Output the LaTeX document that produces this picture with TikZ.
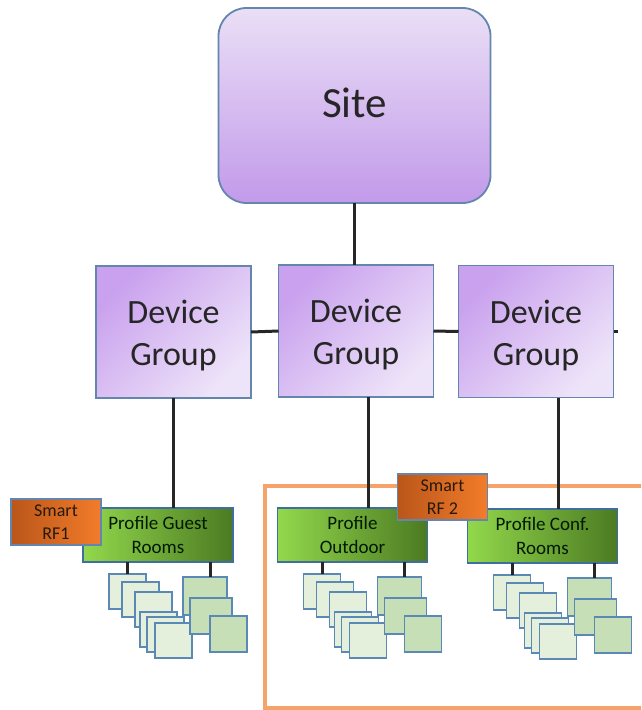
\documentclass[tikz,border=0pt]{standalone}
\usepackage{fontspec}
\setmainfont{Carlito}

\definecolor{SiteTop}{HTML}{EADFF6}
\definecolor{SiteBottom}{HTML}{C29AEA}
\definecolor{GroupDark}{HTML}{C9A1EE}
\definecolor{GroupLight}{HTML}{EEE4F9}
\definecolor{PurpleEdge}{HTML}{6486AE}
\definecolor{ProfLight}{HTML}{92D84C}
\definecolor{ProfDark}{HTML}{4C7A22}
\definecolor{BlueEdge}{HTML}{3F6FA0}
\definecolor{RFDark}{HTML}{BA561A}
\definecolor{RFLight}{HTML}{F27C2A}
\definecolor{SqEdge}{HTML}{5B89B5}
\definecolor{SqLight}{HTML}{E4F0DC}
\definecolor{SqDark}{HTML}{C6DFB6}
\definecolor{ZoneOrange}{HTML}{F6A26B}

\begin{document}
\begin{tikzpicture}[x=1pt, y=-1pt,
  site/.style={draw=PurpleEdge, line width=1.8pt, rounded corners=28pt,
    top color=SiteTop, bottom color=SiteBottom,
    minimum width=272pt, minimum height=195pt, inner sep=0pt, outer sep=0pt,
    text depth=6pt, font=\fontsize{43}{52}\selectfont, text=black!85},
  group/.style={draw=PurpleEdge, line width=1.8pt,
    top color=GroupDark, bottom color=GroupLight, shading angle=45,
    minimum width=155pt, minimum height=132pt, inner sep=0pt, outer sep=0pt,
    text height=73pt, align=center, font=\fontsize{34}{42}\selectfont, text=black!85},
  profile/.style={draw=BlueEdge, line width=1.8pt,
    left color=ProfLight, right color=ProfDark,
    minimum width=150pt, minimum height=54pt, inner sep=0pt, outer sep=0pt,
    align=center, font=\fontsize{19}{24}\selectfont, text=black!75!green!40!black},
  smartrf/.style={draw=PurpleEdge, line width=1.8pt,
    left color=RFDark, right color=RFLight,
    minimum width=90pt, minimum height=46pt, inner sep=0pt, outer sep=0pt,
    align=center, font=\fontsize{18}{23}\selectfont, text=black!80!brown},
  devlight/.style={draw=SqEdge, fill=SqLight, line width=1.6pt,
    inner sep=0pt, outer sep=0pt},
  devdark/.style={draw=SqEdge, fill=SqDark, line width=1.6pt,
    inner sep=0pt, outer sep=0pt},
  link/.style={line width=3pt, black!85},
  zone/.style={draw=ZoneOrange, line width=3.5pt}]
% Page
\clip (0,0) rectangle (641,710);
% Site and device groups
\node[site] (site) at (354.5,105.5) {Site};
\node[group] (dg1) at (173.5,332) {Device\\Group};
\node[group] (dg2) at (356,331) {Device\\Group};
\node[group] (dg3) at (536,331.5) {Device\\Group};
\coordinate (stub) at (618,331.5);
\draw[link] (site.south) -- (site.south |- dg2.north);
\draw[link] (dg1.east) -- (dg2.west);
\draw[link] (dg2.east) -- (dg3.west);
\draw[link] (dg3.east) -- (stub);
% Smart RF 2 zone
\draw[zone] (265,486) rectangle (660,708);
% Profiles
\node[profile] (guest) at (158,535) {Profile Guest\\Rooms};
\node[profile] (outdoor) at (352.5,535) {Profile\\Outdoor};
\node[profile] (conf) at (542.5,536) {Profile Conf.\\Rooms};
\draw[link] (dg1.south) -- (dg1.south |- guest.north);
\draw[link] ([xshift=12pt]dg2.south) -- ([xshift=12pt]dg2.south |- outdoor.north);
\draw[link] ([xshift=22pt]dg3.south) -- ([xshift=22pt]dg3.south |- conf.north);
% Smart RF
\node[smartrf] (rf1) at (56,522) {Smart\\RF1};
\node[smartrf] (rf2) at (442.5,497) {Smart\\RF 2};
% Devices under each profile
\foreach \p in {guest,outdoor,conf}{
  \begin{scope}[shift={(\p.south west)}]
    \foreach \n/\x/\y in {a1/44.5/29.5, a2/57.5/37.5, a3/70.5/47.5,
                          a4/75.5/67.5, a5/82.5/72.5, a6/90.5/78.5}
      \node[devlight, minimum width=37pt, minimum height=35pt] (\p-\n) at (\x,\y) {};
    \foreach \n/\x/\y/\w/\h in {b1/122/34/44/38, b2/128/54/42/36, b3/145.5/72/37/36}
      \node[devdark, minimum width=\w pt, minimum height=\h pt] (\p-\n) at (\x,\y) {};
  \end{scope}
  \draw[link] (\p-a1.north) -- (\p-a1.north |- \p.south);
  \draw[link] ([xshift=5pt]\p-b1.north) -- ([xshift=5pt]\p-b1.north |- \p.south);
}
\end{tikzpicture}
\end{document}
